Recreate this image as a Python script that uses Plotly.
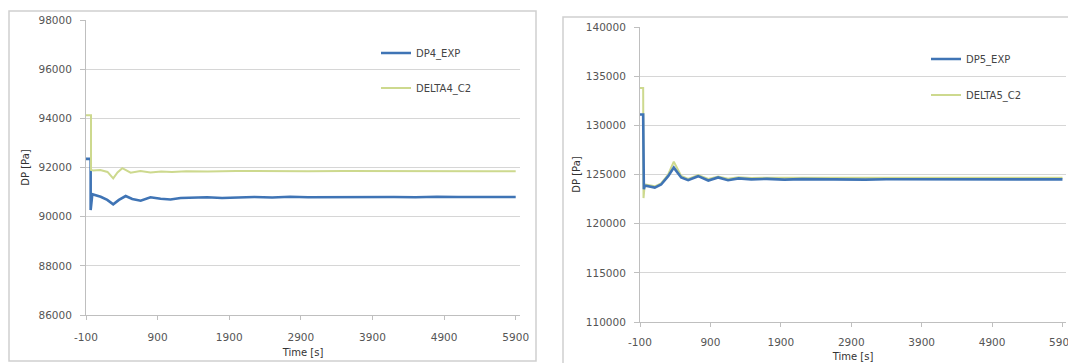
import plotly.graph_objects as go

# ---------------- data ----------------
t4 = [-100, -35, -35, -12, 105, 197, 280, 360, 454, 546, 663, 800, 942, 1080, 1220,
      1410, 1590, 1800, 2000, 2250, 2500, 2750, 3000, 3300, 3600, 3900, 4200, 4500,
      4800, 5100, 5400, 5700, 5900]
dp4_exp = [92350, 92350, 90270, 90910, 90810, 90680, 90500, 90680, 90840, 90720, 90650,
           90790, 90730, 90700, 90760, 90770, 90790, 90760, 90790, 90800, 90780, 90810,
           90790, 90800, 90790, 90810, 90800, 90790, 90810, 90800, 90790, 90800, 90800]

t4c = [-100, -30, -30, 0, 100, 200, 280, 340, 407, 523, 660, 800, 950, 1100, 1300,
       1600, 2000, 2500, 3000, 3500, 4000, 4500, 5000, 5500, 5900]
delta4_c2 = [94130, 94130, 91900, 91880, 91900, 91820, 91560, 91800, 91970, 91790, 91860,
             91800, 91840, 91820, 91850, 91840, 91860, 91850, 91850, 91860, 91850, 91850,
             91860, 91850, 91850]

t5 = [-100, -55, -45, -33, 110, 200, 300, 380, 485, 584, 726, 870, 1010, 1150, 1300,
      1480, 1700, 1950, 2200, 2500, 2800, 3100, 3400, 3700, 4000, 4300, 4600, 4900,
      5200, 5500, 5900]
dp5_exp = [131100, 131100, 123500, 123880, 123670, 123980, 124830, 125700, 124700, 124420,
           124830, 124390, 124700, 124420, 124600, 124500, 124560, 124480, 124530, 124500,
           124520, 124480, 124510, 124500, 124490, 124510, 124500, 124490, 124500, 124490,
           124500]

t5c = [-100, -55, -50, -45, -33, 110, 200, 300, 380, 485, 584, 726, 870, 1010, 1150,
       1300, 1480, 1700, 2000, 2500, 3000, 3500, 4000, 4500, 5000, 5500, 5900]
delta5_c2 = [133800, 133800, 122600, 123600, 124000, 123800, 124100, 125000, 126300,
             124850, 124550, 124950, 124550, 124800, 124560, 124720, 124650, 124680,
             124660, 124680, 124670, 124680, 124670, 124680, 124670, 124680, 124680]

x_tickvals = [-100, 900, 1900, 2900, 3900, 4900, 5900]
x_ticktext = ["-100", "900", "1900", "2900", "3900", "4900", "5900"]
y4_tickvals = [86000, 88000, 90000, 92000, 94000, 96000, 98000]
y4_ticktext = ["86000", "88000", "90000", "92000", "94000", "96000", "98000"]
y5_tickvals = [110000, 115000, 120000, 125000, 130000, 135000, 140000]
y5_ticktext = ["110000", "115000", "120000", "125000", "130000", "135000", "140000"]

# ---------------- layout helpers ----------------
# the page body has an 8px margin, so the figure starts at (8, 8) in the window
OFF = 8
W, H = 1076 - OFF, 363 - OFF
def px(x):
    return (x - OFF) / W
def py(y):
    return 1 - (y - OFF) / H

BLUE = "#3f74b5"
GREEN = "#cdd98e"
FONT = "DejaVu Sans"
TICKC = "#555555"

fig = go.Figure()
fig.add_trace(go.Scatter(x=t4, y=dp4_exp, name="DP4_EXP", mode="lines",
                         line=dict(color=BLUE, width=2.6), xaxis="x", yaxis="y",
                         legend="legend"))
fig.add_trace(go.Scatter(x=t4c, y=delta4_c2, name="DELTA4_C2", mode="lines",
                         line=dict(color=GREEN, width=2), xaxis="x", yaxis="y",
                         legend="legend2"))
fig.add_trace(go.Scatter(x=t5c, y=delta5_c2, name="DELTA5_C2", mode="lines",
                         line=dict(color=GREEN, width=2), xaxis="x2", yaxis="y2",
                         legend="legend4"))
fig.add_trace(go.Scatter(x=t5, y=dp5_exp, name="DP5_EXP", mode="lines",
                         line=dict(color=BLUE, width=2.6), xaxis="x2", yaxis="y2",
                         legend="legend3"))

def common_x(standoff):
    return dict(tickvals=x_tickvals, ticktext=x_ticktext, showgrid=False,
                showline=True, linecolor="#bfbfbf", linewidth=1, ticks="outside",
                ticklen=4, tickcolor="#bfbfbf", zeroline=False, automargin=False,
                tickfont=dict(family=FONT, size=10.5, color=TICKC),
                ticklabelstandoff=standoff)

common_y = dict(showgrid=True, gridcolor="#d6d6d6", gridwidth=1.2, showline=True,
                linecolor="#bfbfbf", linewidth=1, ticks="outside", ticklen=5,
                tickcolor="#bfbfbf", zeroline=False, automargin=False,
                tickfont=dict(family=FONT, size=10.5, color=TICKC),
                ticklabelstandoff=6)

title_font = dict(family=FONT, size=10, color="#333333")

fig.update_layout(
    width=W, height=H,
    margin=dict(l=0, r=0, t=0, b=0, autoexpand=False),
    paper_bgcolor="white", plot_bgcolor="white",
    xaxis=dict(domain=[px(86), px(520)], range=[-100, 5960], anchor="y",
               title=dict(text="Time [s]", standoff=7, font=title_font),
               **common_x(8)),
    yaxis=dict(domain=[py(315), py(20)], range=[86000, 98000], tickvals=y4_tickvals,
               ticktext=y4_ticktext, anchor="x",
               title=dict(text="DP [Pa]", standoff=6, font=title_font),
               **common_y),
    xaxis2=dict(domain=[px(640), px(1066)], range=[-100, 5950], anchor="y2",
                title=dict(text="Time [s]", standoff=6, font=title_font),
                **common_x(6)),
    yaxis2=dict(domain=[py(322), py(27)], range=[110000, 140000], tickvals=y5_tickvals,
                ticktext=y5_ticktext, anchor="x2",
                title=dict(text="DP [Pa]", standoff=3, font=title_font),
                **common_y),
    showlegend=True,
)

leg_font = dict(family=FONT, size=10, color="#444444")
def leg(xp, yp):
    return dict(x=px(xp), y=py(yp), xanchor="left", yanchor="middle",
                bgcolor="rgba(0,0,0,0)", borderwidth=0, font=leg_font,
                itemwidth=30)

fig.update_layout(legend=leg(376, 53), legend2=leg(376, 88),
                  legend3=leg(926, 59), legend4=leg(926, 95))

# chart frames (Excel chart-area borders)
fig.add_shape(type="rect", xref="paper", yref="paper",
              x0=px(9), x1=px(536), y0=py(361), y1=py(11),
              line=dict(color="#d0d0d0", width=1.5), layer="below")
fig.add_shape(type="rect", xref="paper", yref="paper",
              x0=px(563), x1=px(1090), y0=py(380), y1=py(17),
              line=dict(color="#d0d0d0", width=1.5), layer="below")

fig.write_html("out.html")
